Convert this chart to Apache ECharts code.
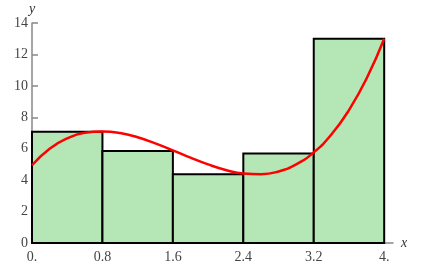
<!DOCTYPE html>
<html><head><meta charset="utf-8">
<script src="https://cdn.jsdelivr.net/npm/echarts@6/dist/echarts.min.js"></script>
<style>html,body{margin:0;padding:0;background:#fff}#c{width:421px;height:272px}</style>
</head><body><div id="c"></div>
<script>
const xEdges = [0, 0.8, 1.6, 2.4, 3.2, 4.0];
const barHeights = [7.08, 5.85, 4.38, 5.7, 13.0];
const curveX = [0, 0.2, 0.4, 0.6, 0.8, 1.0, 1.2, 1.4, 1.6, 1.8, 2.0, 2.2, 2.4, 2.6, 2.8, 3.0, 3.2, 3.4, 3.6, 3.8, 4.0];
const curveY = [4.95, 6.0, 6.66, 7.02, 7.1, 7.0, 6.73, 6.34, 5.9, 5.43, 5.0, 4.65, 4.42, 4.38, 4.55, 5.0, 5.77, 6.9, 8.46, 10.47, 13.0];
const yTicks = [0, 2, 4, 6, 8, 10, 12, 14];

const barData = barHeights.map((h, i) => [xEdges[i], xEdges[i + 1], h]);
const lineData = curveX.map((x, i) => [x, curveY[i]]);

const chart = echarts.init(document.getElementById('c'), null, {renderer: 'canvas'});
const font = '"Liberation Serif", "DejaVu Serif", serif';
chart.setOption({
  animation: false,
  grid: {left: 32, right: 28, top: 23, bottom: 29},
  xAxis: {
    type: 'value', min: 0, max: 4.1, interval: 0.8,
    name: 'x', nameLocation: 'end', nameGap: 8,
    nameTextStyle: {fontFamily: font, fontStyle: 'italic', fontSize: 14, color: '#333', verticalAlign: 'middle'},
    axisLine: {show: true, lineStyle: {color: '#888', width: 1.5}},
    axisTick: {show: false},
    splitLine: {show: false},
    axisLabel: {
      fontFamily: font, fontSize: 14, color: '#444', margin: 7,
      showMaxLabel: false,
      formatter: v => {
        if (Math.abs(v) < 1e-9) return '0.';
        if (Math.abs(v - 4) < 1e-9) return '4.';
        if (v > 4.05) return '';
        return (Math.round(v * 10) / 10).toFixed(1);
      }
    }
  },
  yAxis: {
    type: 'value', min: yTicks[0], max: yTicks[yTicks.length - 1], interval: 2,
    name: 'y', nameLocation: 'end', nameGap: 7,
    nameTextStyle: {fontFamily: font, fontStyle: 'italic', fontSize: 14, color: '#333', align: 'center'},
    axisLine: {show: true, lineStyle: {color: '#888', width: 1.5}},
    axisTick: {show: true, inside: true, length: 6, lineStyle: {color: '#888', width: 1.5}},
    splitLine: {show: false},
    axisLabel: {fontFamily: font, fontSize: 14, color: '#444', margin: 4}
  },
  series: [
    {
      type: 'custom',
      data: barData,
      encode: {x: [0, 1], y: 2},
      renderItem: (params, api) => {
        const p0 = api.coord([api.value(0), api.value(2)]);
        const p1 = api.coord([api.value(1), 0]);
        return {
          type: 'rect',
          shape: {x: p0[0], y: p0[1], width: p1[0] - p0[0], height: p1[1] - p0[1]},
          style: {fill: '#b5e6b5', stroke: '#000', lineWidth: 2}
        };
      },
      z: 2
    },
    {
      type: 'line',
      data: lineData,
      smooth: true,
      showSymbol: false,
      lineStyle: {color: '#ff0000', width: 2.5},
      z: 3
    }
  ]
});
</script></body></html>
